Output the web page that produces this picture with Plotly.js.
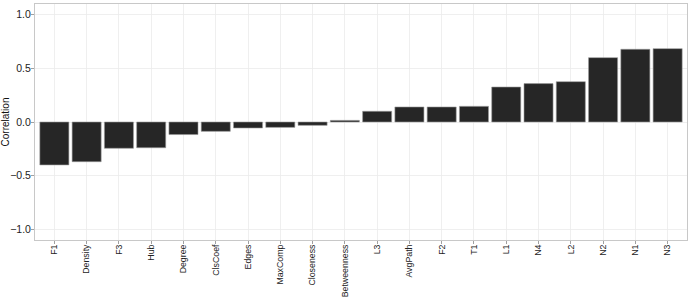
<!DOCTYPE html>
<html><head><meta charset="utf-8">
<script src="https://cdn.plot.ly/plotly-3.0.1.min.js"></script>
<style>html,body{margin:0;padding:0;background:#fff}#chart{width:689px;height:299px}</style>
</head><body><div id="chart"></div>
<script>
const categories = ["F1","Density","F3","Hub","Degree","ClsCoef","Edges","MaxComp","Closeness","Betweenness","L3","AvgPath","F2","T1","L1","N4","L2","N2","N1","N3"];
const correlations = [-0.40,-0.37,-0.245,-0.24,-0.117,-0.087,-0.056,-0.05,-0.031,0.015,0.10,0.14,0.14,0.146,0.326,0.358,0.376,0.60,0.678,0.684];
const yTicks = [-1.0,-0.5,0.0,0.5,1.0];

const trace = {
  type: 'bar', x: categories, y: correlations, width: 0.9,
  marker: {color: '#262626', line: {color: '#9a9a9a', width: 0.6}},
  hoverinfo: 'x+y'
};
const layout = {
  width: 689, height: 299,
  margin: {l: 35, r: 2, t: 4, b: 59},
  paper_bgcolor: '#fff', plot_bgcolor: '#fff',
  font: {family: 'Liberation Sans, Arial, sans-serif', size: 9, color: '#222'},
  showlegend: false,
  xaxis: {
    type: 'category', range: [-0.6, 19.6], tickangle: -90,
    showgrid: true, gridcolor: '#ebebeb', gridwidth: 0.8,
    ticks: 'outside', ticklen: 3, tickcolor: '#888', tickwidth: 0.8,
    ticklabelstandoff: -3,
    showline: true, linecolor: '#c8c8c8', linewidth: 1, mirror: true,
    tickfont: {size: 8.8, color: '#222'}, fixedrange: true
  },
  yaxis: {
    range: [-1.1, 1.1], tickvals: yTicks, tickformat: '.1f',
    showgrid: true, gridcolor: '#ebebeb', gridwidth: 0.8, zeroline: false,
    ticks: 'outside', ticklen: 3, tickcolor: '#888', tickwidth: 0.8,
    ticklabelstandoff: -2,
    showline: true, linecolor: '#c8c8c8', linewidth: 1, mirror: true,
    tickfont: {size: 10.5, color: '#222'},
    title: {text: 'Correlation', font: {size: 10, color: '#111'}, standoff: 4},
    fixedrange: true
  }
};
Plotly.newPlot('chart', [trace], layout, {displayModeBar: false, staticPlot: true});
</script></body></html>
